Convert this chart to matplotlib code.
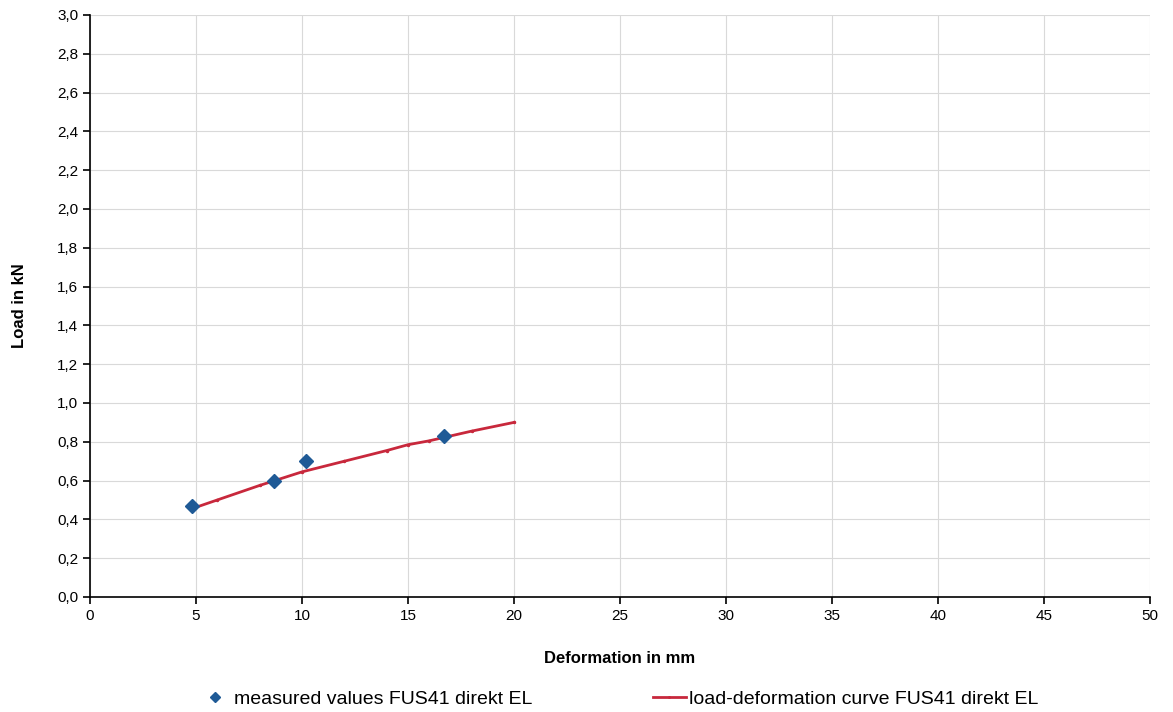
import matplotlib.pyplot as plt
from matplotlib.ticker import FuncFormatter, MultipleLocator

plt.rcParams["font.family"] = ["Liberation Sans", "DejaVu Sans"]

# measured points
meas_x = [4.8, 8.7, 10.2, 16.7]
meas_y = [0.47, 0.60, 0.70, 0.83]

# fitted load-deformation curve
curve_x = [4.8, 6, 8, 10, 12, 14, 15, 16, 18, 20]
curve_y = [0.455, 0.50, 0.575, 0.645, 0.70, 0.755, 0.785, 0.805, 0.855, 0.90]

fig = plt.figure(figsize=(11.73, 7.12), dpi=100)
ax = fig.add_axes([90 / 1173, 1 - 597 / 712, (1150 - 90) / 1173, (597 - 15) / 712])

ax.plot(curve_x, curve_y, color="#c8283c", lw=2, marker="o", ms=1.5,
        label="load-deformation curve FUS41 direkt EL")
ax.plot(meas_x, meas_y, ls="none", marker="D", ms=7, color="#1f5a96",
        label="measured values FUS41 direkt EL", zorder=3)

ax.set_xlim(0, 50)
ax.set_ylim(0, 3.0)
ax.xaxis.set_major_locator(MultipleLocator(5))
ax.yaxis.set_major_locator(MultipleLocator(0.2))
ax.yaxis.set_major_formatter(FuncFormatter(lambda v, p: f"{v:.1f}".replace(".", ",")))
ax.grid(color="#d9d9d9", lw=0.8)
ax.set_axisbelow(True)
for s in ["top", "right"]:
    ax.spines[s].set_visible(False)
ax.spines["left"].set_linewidth(1.2)
ax.spines["bottom"].set_linewidth(1.2)
ax.tick_params(labelsize=11, length=5, width=1.2)

ax.set_xlabel("Deformation in mm", fontsize=12, fontweight="bold", labelpad=20)
ax.set_ylabel("Load in kN", fontsize=12, fontweight="bold", labelpad=22)

h, l = ax.get_legend_handles_labels()
fig.legend(h[::-1], l[::-1], loc="center", bbox_to_anchor=(0.527, 0.018), ncol=2,
           frameon=False, fontsize=14, columnspacing=6.2, handlelength=1.7,
           handletextpad=0.15, markerscale=0.7, borderpad=0)

fig.savefig("out.png", dpi=100)
